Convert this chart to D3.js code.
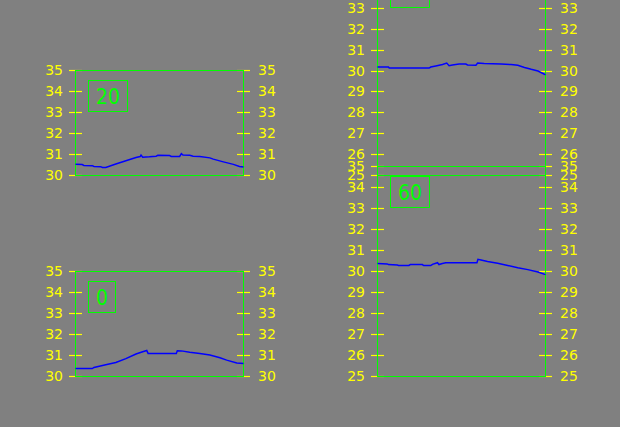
<!DOCTYPE html>
<html>
<head>
<meta charset="utf-8">
<script src="https://cdn.jsdelivr.net/npm/d3@7"></script>
<style>
  html, body { margin: 0; padding: 0; background: #808080; overflow: hidden; }
  svg { display: block; }
  .tick text { font-family: "DejaVu Sans", sans-serif; font-size: 14px; fill: #ffff00; }
  .tick line { stroke: #ffff00; stroke-width: 1.2px; }
</style>
</head>
<body>
<svg id="chart" width="620" height="427"></svg>
<script>
// panel labels
const panelLabels = ["20", "0", "40", "60"];

// x positions (percent of record) and values for each panel
const s20X = [0, 4, 5, 10, 11, 15, 16, 18, 24, 30, 36, 38.5, 39, 40, 44, 48, 49, 56, 57, 62, 63, 64, 68, 70, 74, 80, 82, 88, 94, 97.6, 100];
const s20Y = [30.53, 30.52, 30.48, 30.47, 30.43, 30.42, 30.38, 30.38, 30.55, 30.70, 30.86, 30.90, 30.97, 30.87, 30.89, 30.92, 30.96, 30.95, 30.91, 30.91, 31.04, 30.97, 30.96, 30.92, 30.90, 30.84, 30.78, 30.65, 30.53, 30.43, 30.40];

const s0X = [0, 10, 11, 18, 24, 30, 36, 40, 42.4, 43.2, 60, 60.6, 63, 68, 74, 80, 86, 90, 96, 100];
const s0Y = [30.38, 30.38, 30.43, 30.56, 30.67, 30.85, 31.07, 31.18, 31.24, 31.10, 31.10, 31.23, 31.22, 31.16, 31.10, 31.02, 30.89, 30.78, 30.64, 30.62];

const s40X = [0, 6.5, 7, 30.7, 31.7, 34.7, 38.7, 41.2, 42.6, 44.6, 48.6, 52.6, 53.6, 58.6, 59.6, 63.5, 73.5, 79.5, 83.5, 87.5, 91.5, 95.5, 100];
const s40Y = [30.19, 30.19, 30.14, 30.14, 30.19, 30.24, 30.31, 30.38, 30.25, 30.29, 30.33, 30.33, 30.29, 30.28, 30.38, 30.36, 30.33, 30.31, 30.27, 30.17, 30.08, 30.00, 29.82];

const s60X = [0, 5.8, 6.5, 11.8, 12.5, 18.7, 19.5, 26.7, 27.5, 31.7, 32.7, 35.7, 36.6, 38.6, 40.6, 59.2, 59.8, 61.6, 65.5, 71.5, 77.5, 83.5, 89.5, 95.5, 100];
const s60Y = [30.38, 30.36, 30.33, 30.31, 30.29, 30.29, 30.33, 30.33, 30.28, 30.28, 30.34, 30.42, 30.33, 30.38, 30.42, 30.42, 30.58, 30.55, 30.48, 30.39, 30.29, 30.18, 30.09, 29.98, 29.85];

// y axis ticks
const leftTicks = [30, 31, 32, 33, 34, 35];
const rightTicks = [25, 26, 27, 28, 29, 30, 31, 32, 33, 34, 35];

// layout of the four panels
const panels = [
  { label: panelLabels[0], xs: s20X, ys: s20Y, ticks: leftTicks, left: 75, top: 70, w: 168, h: 105 },
  { label: panelLabels[1], xs: s0X, ys: s0Y, ticks: leftTicks, left: 75, top: 271, w: 168, h: 105 },
  { label: panelLabels[2], xs: s40X, ys: s40Y, ticks: rightTicks, left: 377, top: -34, w: 168, h: 209 },
  { label: panelLabels[3], xs: s60X, ys: s60Y, ticks: rightTicks, left: 377, top: 166, w: 168, h: 210 }
];

const svg = d3.select("#chart");

panels.forEach(p => {
  const g = svg.append("g").attr("transform", `translate(${p.left},${p.top})`);

  const x = d3.scaleLinear().domain([0, 100]).range([0.5, p.w + 0.5]);
  const y = d3.scaleLinear().domain(d3.extent(p.ticks)).range([p.h, 0]);
  const yRound = d3.scaleLinear().domain(y.domain()).range(y.range()).interpolate(d3.interpolateRound);

  // left axis
  const ga = g.append("g")
    .call(d3.axisLeft(yRound).tickValues(p.ticks).tickFormat(d3.format("d"))
      .tickSize(6).tickPadding(6).offset(0.5));
  ga.select(".domain").remove();
  ga.selectAll(".tick line").attr("x1", 7);

  // right axis
  const gb = g.append("g")
    .attr("transform", `translate(${p.w},0)`)
    .call(d3.axisRight(yRound).tickValues(p.ticks).tickFormat(d3.format("d"))
      .tickSize(7).tickPadding(8).offset(0.5));
  gb.select(".domain").remove();
  gb.selectAll(".tick line").attr("x1", -6);

  // frame
  g.append("rect")
    .attr("x", 0.5).attr("y", 0.5)
    .attr("width", p.w).attr("height", p.h)
    .attr("fill", "none")
    .attr("stroke", "#00ff00")
    .attr("shape-rendering", "crispEdges");

  // series line
  const pts = p.xs.map((d, i) => [d, p.ys[i]]);
  g.append("path")
    .datum(pts)
    .attr("fill", "none")
    .attr("stroke", "#0000ff")
    .attr("stroke-width", 1.5)
    .attr("d", d3.line().x(d => x(d[0])).y(d => y(d[1]) + 0.5));

  // label box
  const lb = g.append("g").attr("transform", "translate(13,10)");
  const txt = lb.append("text")
    .attr("y", 16)
    .attr("dy", "0.36em")
    .attr("fill", "#00ff00")
    .attr("font-family", "'Liberation Sans Narrow', 'DejaVu Sans Condensed', sans-serif")
    .attr("font-size", 21)
    .text(p.label);
  const tw = txt.node().getComputedTextLength();
  txt.attr("x", 8);
  lb.insert("rect", "text")
    .attr("x", 0.5).attr("y", 0.5)
    .attr("width", Math.round(tw + 15)).attr("height", 31)
    .attr("fill", "none")
    .attr("stroke", "#00ff00")
    .attr("shape-rendering", "crispEdges");
});
</script>
</body>
</html>
